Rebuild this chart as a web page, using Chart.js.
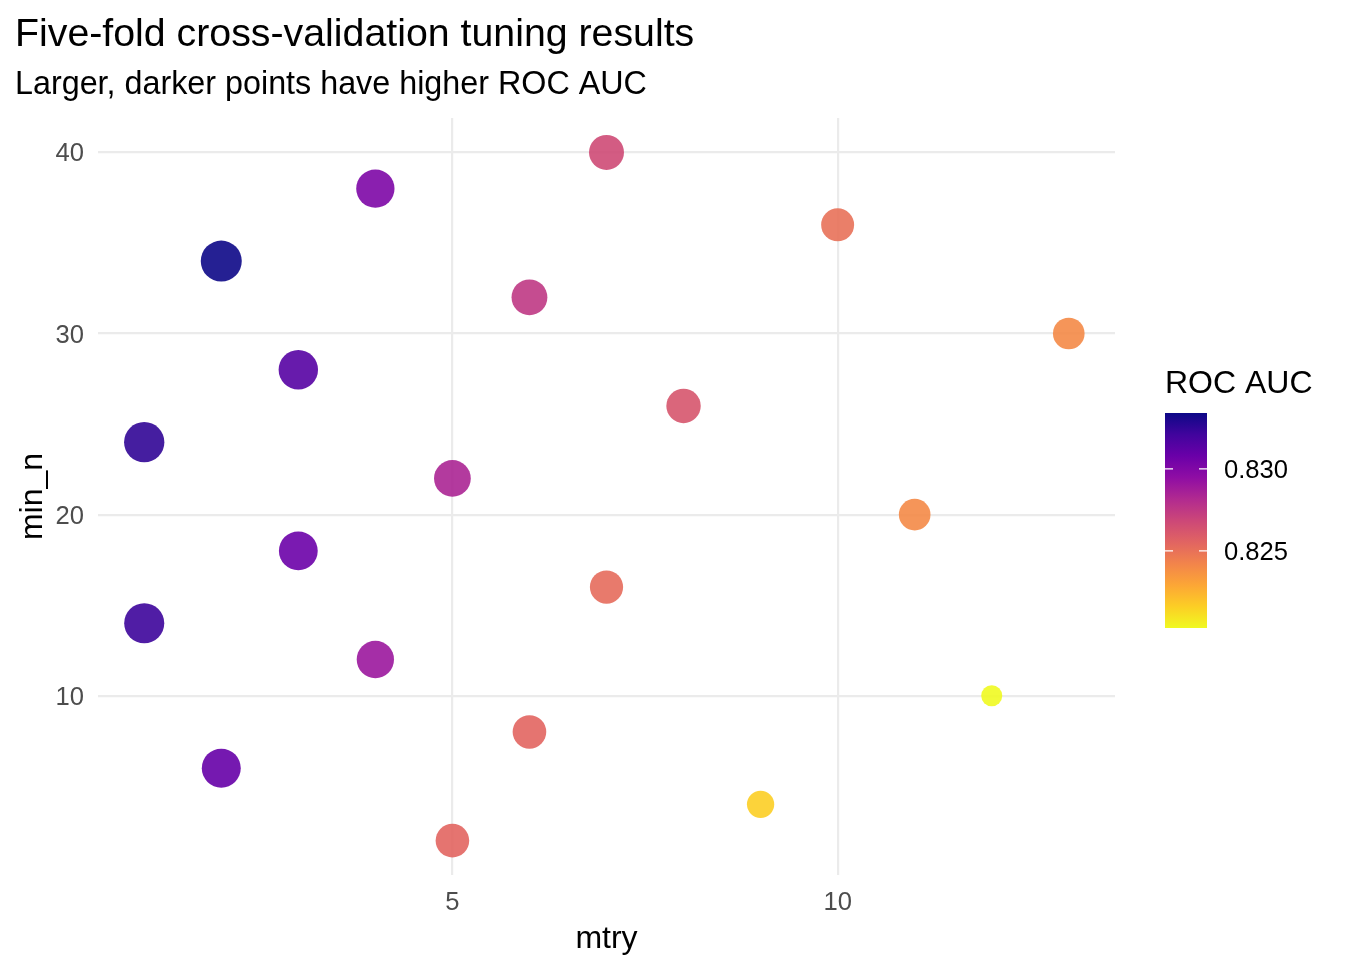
<!DOCTYPE html>
<html>
<head>
<meta charset="utf-8">
<title>Five-fold cross-validation tuning results</title>
<script src="https://cdn.jsdelivr.net/npm/chart.js@4.4.1/dist/chart.umd.min.js"></script>
<style>
    html, body { margin: 0; padding: 0; background: #ffffff; }
    #wrap { width: 1350px; height: 972px; position: relative; }
</style>
</head>
<body>
<div id="wrap"><canvas id="tuneChart"></canvas></div>
<script>
// tuning grid results
const mtry   = [7, 4, 2, 10, 6, 13, 3, 8, 1, 5, 11, 3, 7, 1, 4, 12, 6, 2, 9, 5];
const minN   = [40, 38, 34, 36, 32, 30, 28, 26, 24, 22, 20, 18, 16, 14, 12, 10, 8, 6, 4, 2];
const rocAuc = [0.8267, 0.8301, 0.8334, 0.8250, 0.8275, 0.8240, 0.8314, 0.8262, 0.8325, 0.8284,
                0.8240, 0.8307, 0.8252, 0.8322, 0.8290, 0.8203, 0.8255, 0.8309, 0.8216, 0.8255];

const xTicks = [5, 10];
const yTicks = [10, 20, 30, 40];
const aucTicks = [0.825, 0.830];

const FONT = "'Liberation Sans', Arial, sans-serif";

// plasma palette stops
const plasma = ['#0D0887', '#41049D', '#6A00A8', '#8F0DA4', '#B12A90', '#CC4778',
                '#E16462', '#F2844B', '#FCA636', '#FCCE25', '#F0F921'];

const aucMin = Math.min(...rocAuc);
const aucMax = Math.max(...rocAuc);

function hexToRgb(h) {
    return [parseInt(h.slice(1, 3), 16), parseInt(h.slice(3, 5), 16), parseInt(h.slice(5, 7), 16)];
}

// higher AUC -> darker end of plasma
function aucColour(v, alpha) {
    let t = (aucMax - v) / (aucMax - aucMin);
    t = Math.max(0, Math.min(1, t));
    const pos = t * (plasma.length - 1);
    const i = Math.min(Math.floor(pos), plasma.length - 2);
    const f = pos - i;
    const a = hexToRgb(plasma[i]), b = hexToRgb(plasma[i + 1]);
    const c = a.map((x, k) => Math.round(x + (b[k] - x) * f));
    return `rgba(${c[0]}, ${c[1]}, ${c[2]}, ${alpha})`;
}

// area-style size scale: diameter 21px .. 41px
function aucRadius(v) {
    const f = (v - aucMin) / (aucMax - aucMin);
    return (21 + 20 * Math.sqrt(Math.max(0, f))) / 2;
}

const overlay = {
    id: 'overlay',
    afterDraw(chart) {
        const ctx = chart.ctx;
        const area = chart.chartArea;
        ctx.save();

        ctx.fillStyle = '#000000';
        ctx.textAlign = 'left';
        ctx.textBaseline = 'alphabetic';
        ctx.font = `39.3px ${FONT}`;
        ctx.fillText('Five-fold cross-validation tuning results', 15, 46);
        ctx.font = `32.3px ${FONT}`;
        ctx.fillText('Larger, darker points have higher ROC AUC', 15, 94);

        // axis titles
        ctx.font = `32px ${FONT}`;
        ctx.textAlign = 'center';
        ctx.fillText('mtry', (area.left + area.right) / 2, 948);
        ctx.save();
        ctx.translate(42, (area.top + area.bottom) / 2);
        ctx.rotate(-Math.PI / 2);
        ctx.fillText('min_n', 0, 0);
        ctx.restore();

        // colour bar legend
        const barL = 1165, barR = 1207, barT = 413, barB = 628;
        ctx.textAlign = 'left';
        ctx.fillText('ROC AUC', barL, 393);
        const grad = ctx.createLinearGradient(0, barT, 0, barB);
        plasma.forEach((c, i) => grad.addColorStop(i / (plasma.length - 1), c));
        ctx.fillStyle = grad;
        ctx.fillRect(barL, barT, barR - barL, barB - barT);

        ctx.strokeStyle = '#ffffff';
        ctx.lineWidth = 1.2;
        ctx.font = `25.6px ${FONT}`;
        ctx.fillStyle = '#000000';
        ctx.textBaseline = 'middle';
        aucTicks.forEach(v => {
            const y = barT + (aucMax - v) / (aucMax - aucMin) * (barB - barT);
            ctx.beginPath();
            ctx.moveTo(barL, y); ctx.lineTo(barL + 8, y);
            ctx.moveTo(barR - 8, y); ctx.lineTo(barR, y);
            ctx.stroke();
            ctx.fillText(v.toFixed(3), 1224, y + 2);
        });
        ctx.restore();
    }
};

const points = mtry.map((x, i) => ({ x: x, y: minN[i] }));

new Chart(document.getElementById('tuneChart'), {
    type: 'scatter',
    data: {
        datasets: [{
            label: 'ROC AUC',
            data: points,
            backgroundColor: c => aucColour(rocAuc[c.dataIndex], 0.9),
            borderWidth: 0,
            pointRadius: c => aucRadius(rocAuc[c.dataIndex]),
            pointHoverRadius: c => aucRadius(rocAuc[c.dataIndex])
        }]
    },
    options: {
        responsive: true,
        maintainAspectRatio: false,
        animation: false,
        layout: { autoPadding: false, padding: { left: 0, top: 118, right: 235, bottom: 0 } },
        plugins: {
            legend: { display: false },
            tooltip: { enabled: false },
            title: { display: false }
        },
        scales: {
            x: {
                type: 'linear',
                min: 0.4,
                max: 13.6,
                afterBuildTicks: s => { s.ticks = xTicks.map(v => ({ value: v })); },
                afterFit: s => { s.height = 97; },
                grid: { color: '#EBEBEB', lineWidth: 2.2, drawTicks: false },
                border: { display: false },
                ticks: { color: '#4D4D4D', font: { family: FONT, size: 25.6 }, padding: 13, maxRotation: 0, autoSkip: false }
            },
            y: {
                type: 'linear',
                min: 0.1,
                max: 41.9,
                afterBuildTicks: s => { s.ticks = yTicks.map(v => ({ value: v })); },
                afterFit: s => { s.width = 98; },
                grid: { color: '#EBEBEB', lineWidth: 2.2, drawTicks: false },
                border: { display: false },
                ticks: { color: '#4D4D4D', font: { family: FONT, size: 25.6 }, padding: 14, labelOffset: 2, autoSkip: false }
            }
        }
    },
    plugins: [overlay]
});
</script>
</body>
</html>
